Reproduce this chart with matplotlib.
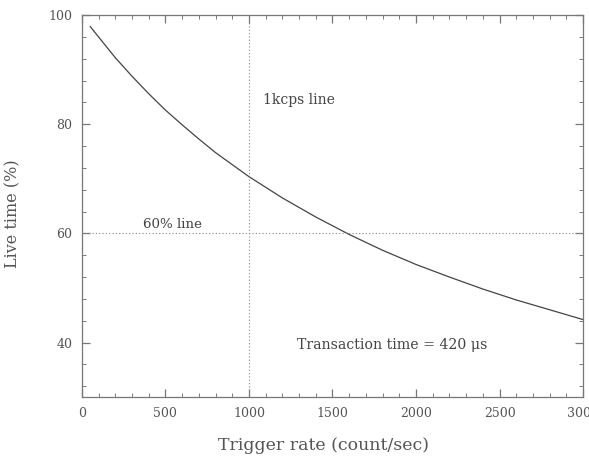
import matplotlib
matplotlib.use("Agg")
import matplotlib.pyplot as plt
from matplotlib.ticker import MultipleLocator

# Data
trigger_rate = [50, 100, 200, 300, 400, 500, 600, 700, 800, 900, 1000,
                1200, 1400, 1600, 1800, 2000, 2200, 2400, 2600, 2800, 3000]
live_time = [97.9, 96.0, 92.2, 88.8, 85.6, 82.6, 79.9, 77.3, 74.8, 72.6, 70.4,
             66.5, 63.0, 59.8, 56.9, 54.3, 52.0, 49.8, 47.8, 46.0, 44.2]
hline_value = 60
vline_value = 1000

fig = plt.figure(figsize=(5.89, 4.58), dpi=100)
ax = fig.add_axes([0.139, 0.133, 0.851, 0.834])

txt = '#555555'
fam = 'DejaVu Serif'

ax.plot(trigger_rate, live_time, color='#444444', lw=0.9)
ax.axhline(hline_value, color='#888888', lw=0.8, ls=(0, (1, 2)))
ax.axvline(vline_value, color='#888888', lw=0.8, ls=(0, (1, 2)))

ax.set_xlim(0, 3000)
ax.set_ylim(30, 100)
ax.xaxis.set_major_locator(MultipleLocator(500))
ax.xaxis.set_minor_locator(MultipleLocator(100))
ax.yaxis.set_minor_locator(MultipleLocator(4))
ax.set_yticks([40, 60, 80, 100])

for s in ax.spines.values():
    s.set_color('#777777')
    s.set_linewidth(0.9)
ax.tick_params(which='both', direction='in', top=True, right=True,
               colors='#777777', labelcolor=txt)
ax.tick_params(which='major', length=6, width=0.9, labelsize=9, pad=7)
ax.tick_params(which='minor', length=3, width=0.7)
for lab in ax.get_xticklabels() + ax.get_yticklabels():
    lab.set_family(fam)

ax.set_xlabel('Trigger rate (count/sec)', family=fam, fontsize=12.5, color=txt)
ax.set_ylabel('Live time (%)', family=fam, fontsize=11.5, color=txt)
ax.xaxis.set_label_coords(0.483, -0.105)
ax.yaxis.set_label_coords(-0.12, 0.479)

ax.text(365, 61.7, '60% line', family=fam, fontsize=9.6, color='#444444', va='center')
ax.text(1084, 84.4, '1kcps line', family=fam, fontsize=10, color='#444444', va='center')
ax.text(1287, 39.5, 'Transaction time = 420 μs', family=fam, fontsize=10.2,
        color='#444444', va='center')

fig.savefig('out.png', dpi=100)
